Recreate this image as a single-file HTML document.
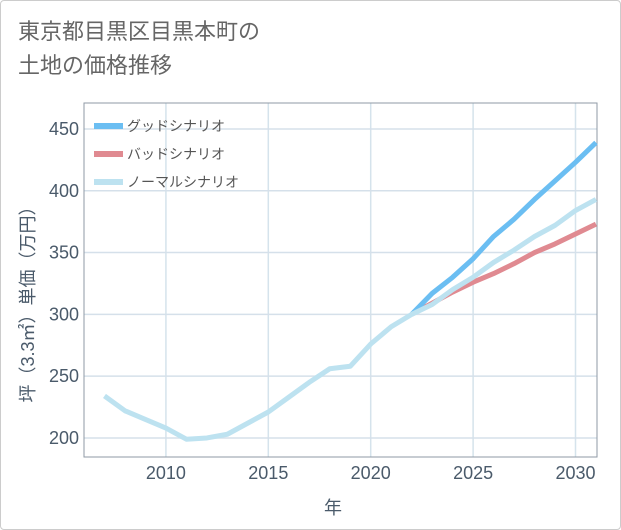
<!DOCTYPE html>
<html><head><meta charset="utf-8">
<style>
body{margin:0;background:#fff;}
#c{position:relative;width:619px;height:528px;border:1px solid #ccc;border-radius:4px;font-family:"Liberation Sans","Noto Sans CJK JP",sans-serif;overflow:hidden}
#t{position:absolute;left:17px;top:14px;font-size:22px;line-height:34px;color:#666;}
</style></head><body>
<div id="c">
<div id="t">東京都目黒区目黒本町の<br>土地の価格推移</div>
<svg id="s" width="621" height="530" style="position:absolute;left:-1px;top:-1px"></svg>
</div>
<script>
const years=[2007,2008,2009,2010,2011,2012,2013,2014,2015,2016,2017,2018,2019,2020,2021,2022,2023,2024,2025,2026,2027,2028,2029,2030,2031];
const normal=[234,222,215,208,199,200,203,212,221,233,245,256,258,276,290,300,308,320,330,342,352,363,372,384,393];
const goodYears=[2022,2023,2024,2025,2026,2027,2028,2029,2030,2031];
const good=[300,317,330,345,363,377,393,408,423,439];
const bad=[300,309,318,326,333,341,350,357,365,373];
const xTicks=[2010,2015,2020,2025,2030];
const yTicks=[200,250,300,350,400,450];
const L=84,R=597,T=103,B=457,x0=2006,x1=2031.05,y0=184.6,y1=471;
const X=v=>L+(v-x0)/(x1-x0)*(R-L), Y=v=>B-(v-y0)/(y1-y0)*(B-T);
const s=document.getElementById('s'),NS='http://www.w3.org/2000/svg';
function el(t,a,p){const e=document.createElementNS(NS,t);for(const k in a)e.setAttribute(k,a[k]);(p||s).appendChild(e);return e;}
xTicks.forEach(v=>{const e=el('line',{x1:X(v),x2:X(v),y1:T,y2:B,stroke:'#d5e3ec','stroke-width':1.5});

const t=el('text',{x:X(v),y:B+22,'text-anchor':'middle','font-size':18,fill:'#4a5a6a'});t.textContent=v;
});
yTicks.forEach(v=>{const e=el('line',{x1:L,x2:R,y1:Y(v),y2:Y(v),stroke:'#d5e0ea','stroke-width':1.5});

const t=el('text',{x:L-5,y:Y(v)+6,'text-anchor':'end','font-size':18,fill:'#4a5a6a'});t.textContent=v;
});
const fr=el('rect',{x:L,y:T,width:R-L,height:B-T,fill:'none',stroke:'#8f9aa5','stroke-width':1});

function line(xs,ys,c,n){const p=el('polyline',{points:xs.map((x,i)=>X(x)+','+Y(ys[i])).join(' '),fill:'none',stroke:c,'stroke-width':5,'stroke-linejoin':'round'});
}
line(goodYears,bad,'#e08a91','bad-scenario-line');
line(goodYears,good,'#6bbef2','good-scenario-line');
line(years,normal,'#bde2f0','normal-scenario-line');
const leg=[['グッドシナリオ','#6bbef2'],['バッドシナリオ','#e08a91'],['ノーマルシナリオ','#bde2f0']];
leg.forEach((d,i)=>{const y=126+i*28;
const r=el('rect',{x:94,y:y-3,width:29,height:6,fill:d[1]});
const t=el('text',{x:127,y:y+5,'font-size':14,fill:'#555'});t.textContent=d[0];});
const yt=el('text',{x:0,y:0,transform:'translate(34,300) rotate(-90)','text-anchor':'middle','font-size':18,fill:'#4a5a6a'});yt.textContent='坪（3.3㎡）単価（万円）';

const xt=el('text',{x:333,y:514,'text-anchor':'middle','font-size':18,fill:'#4a5a6a'});xt.textContent='年';

</script>
</body></html>
